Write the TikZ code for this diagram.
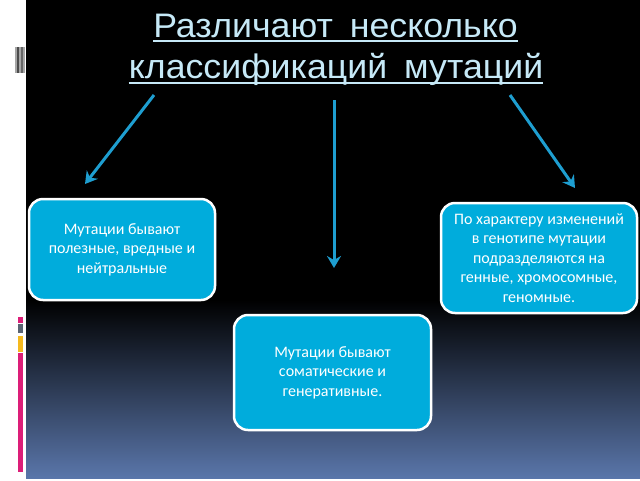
\documentclass[tikz,border=0pt]{standalone}
\usepackage{fontspec}
\setmainfont{Carlito}
\newfontfamily\titlefont[FakeStretch=1.05]{Liberation Sans}
\usetikzlibrary{arrows.meta}
\definecolor{titleblue}{RGB}{198,233,247}
\definecolor{arrowblue}{RGB}{30,158,208}
\definecolor{boxblue}{RGB}{0,172,220}
\definecolor{bgbottom}{RGB}{90,118,170}
\definecolor{decopink}{RGB}{220,30,120}
\definecolor{decoyellow}{RGB}{245,185,30}
\definecolor{decogray}{RGB}{90,100,115}
\begin{document}
\begin{tikzpicture}[x=1pt,y=-1pt,
  infobox/.style={draw=white, line width=2.5pt, fill=boxblue, rounded corners=14pt,
    text=white, align=center, font=\fontsize{16}{19.5}\selectfont, inner sep=0pt},
  arrowline/.style={draw=arrowblue, line width=3pt, -{Stealth[length=12pt,width=14pt,inset=4pt]}},
  titletext/.style={text=titleblue, font=\titlefont\fontsize{34}{38}\selectfont, inner sep=0pt, anchor=base},
  underl/.style={draw=titleblue, line width=2pt}]
\useasboundingbox (0,0) rectangle (640,480);
\fill[white] (0,0) rectangle (640,480);
\fill[black] (26,0) rectangle (640,478);
\shade[top color=black, bottom color=bgbottom] (26,300) rectangle (640,478);
% left decorations
\fill[gray!70] (15,47) rectangle (25,73);
\fill[black!70] (17,47) rectangle (19,73);
\fill[black!60] (21,47) rectangle (23,73);
\fill[decopink] (18,317) rectangle (23,323);
\fill[decogray] (18,324) rectangle (23,333);
\fill[decoyellow] (18,336) rectangle (23,352);
\fill[decopink] (18,353) rectangle (23,472);
% title
\node[titletext] (t1) at (335.5,37) {Различают\hspace{0.5em}несколько};
\node[titletext] (t2) at (336,78) {классификаций\hspace{0.5em}мутаций};
\draw[underl] ([yshift=-4pt]t1.base west) -- ([yshift=-4pt]t1.base east);
\draw[underl] ([yshift=-5pt]t2.base west) -- ([yshift=-5pt]t2.base east);
% boxes
\node[infobox, minimum width=186pt, minimum height=101pt] (b1) at (122,249.5)
  {Мутации бывают\\полезные, вредные и\\нейтральные};
\node[infobox, minimum width=197pt, minimum height=115pt] (b2) at (332.5,372.5)
  {Мутации бывают\\соматические и\\генеративные.};
\node[infobox, minimum width=196pt, minimum height=110pt] (b3) at (539,258)
  {По характеру изменений\\в генотипе мутации\\подразделяются на\\генные, хромосомные,\\геномные.};
% arrows
\coordinate (s1) at (154,95);
\coordinate (e1) at (85,184);
\coordinate (s2) at (334,100);
\coordinate (e2) at (334,268);
\coordinate (s3) at (510,95);
\coordinate (e3) at (575,188);
\draw[arrowline] (s1) -- (e1);
\draw[arrowline] (s2) -- (e2);
\draw[arrowline] (s3) -- (e3);
\end{tikzpicture}
\end{document}
